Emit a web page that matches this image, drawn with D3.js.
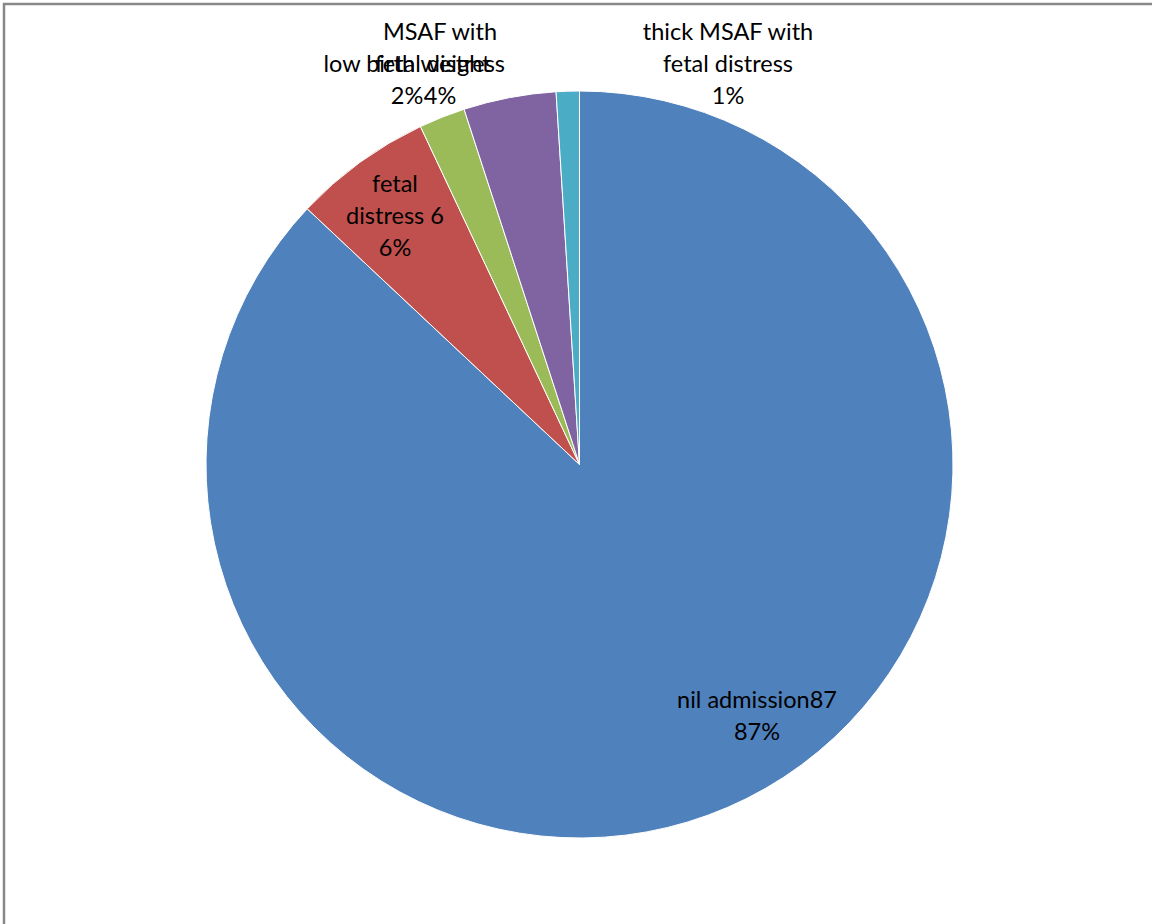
<!DOCTYPE html>
<html><head><meta charset="utf-8">
<script src="https://cdn.jsdelivr.net/npm/d3@7"></script>
<style>body{margin:0;background:#fff}svg{display:block}</style>
</head><body>
<svg id="c" width="1152" height="924"></svg>
<script>
const categories = ["nil admission87", "fetal distress 6", "low birth weight", "MSAF with fetal distress", "thick MSAF with fetal distress"];
const values = [87, 6, 2, 4, 1];
const colors = ["#4F81BD", "#C0504D", "#9BBB59", "#8064A2", "#4BACC6"];
const labelLines = [["nil admission87", "87%"], ["fetal", "distress 6", "6%"], ["low birth weight", "2%"], ["MSAF with", "fetal distress", "4%"], ["thick MSAF with", "fetal distress", "1%"]];
const labelPos = [[757, 702], [395, 186], [407, 66], [440, 34], [728, 34]];

const svg = d3.select("#c");
svg.append("rect").attr("x", 4).attr("y", 4).attr("width", 1200).attr("height", 1000)
  .attr("fill", "none").attr("stroke", "#888").attr("stroke-width", 2.5);

const cx = 579.5, cy = 464.5, r = 373.5;
const pie = d3.pie().sort(null).value(d => d)(values);
const arc = d3.arc().innerRadius(0).outerRadius(r);
const g = svg.append("g").attr("transform", `translate(${cx},${cy})`);
g.selectAll("path").data(pie).join("path")
  .attr("d", arc).attr("fill", (d, i) => colors[i])
  .attr("stroke", "#fff").attr("stroke-width", 1);

const lg = svg.append("g").attr("font-family", "Lato, 'Open Sans', sans-serif").attr("font-size", 23.5).attr("fill", "#000").attr("text-anchor", "middle");
labelLines.forEach((lines, i) => {
  lines.forEach((t, j) => {
    lg.append("text").attr("x", labelPos[i][0]).attr("y", labelPos[i][1] + j * 32)
      .attr("dominant-baseline", "middle").text(t);
  });
});
</script>
</body></html>
